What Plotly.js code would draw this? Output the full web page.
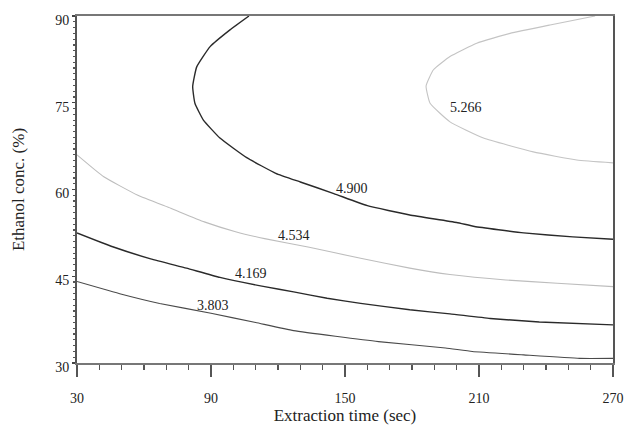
<!DOCTYPE html>
<html>
<head>
<meta charset="utf-8">
<script src="https://cdn.plot.ly/plotly-3.0.1.min.js"></script>
<style>html,body{margin:0;padding:0;background:#fff;}#chart{width:627px;height:428px;}</style>
</head>
<body>
<div id="chart"></div>
<script>
// Contour levels
const levels = ["3.803", "4.169", "4.534", "4.900", "5.266"];

// Contour 3.803
const c1x = [30, 50, 67, 90, 110, 127, 165, 195, 207, 230, 255, 270];
const c1y = [44.1, 41.9, 40.3, 38.6, 37.0, 35.6, 33.7, 32.6, 32.0, 31.4, 30.8, 30.8];
// Contour 4.169
const c2x = [30, 46, 63, 79, 94, 114, 127, 142, 157, 179, 197, 215, 237, 270];
const c2y = [52.5, 50.1, 48.0, 46.4, 44.8, 43.2, 42.3, 41.2, 40.3, 39.2, 38.5, 37.7, 37.1, 36.6];
// Contour 4.534
const c3x = [30, 42, 57, 72, 87, 101, 114, 134, 157, 179, 197, 222, 245, 270];
const c3y = [66.0, 62.2, 59.05, 56.75, 54.4, 52.7, 51.5, 50.0, 48.1, 46.4, 45.3, 44.35, 43.8, 43.2];
// Contour 4.900
const c4x = [107, 98.5, 89.6, 83.6, 81.8, 82.8, 86.6, 94, 106, 119, 130, 145, 160, 179, 200, 208, 230, 252, 270];
const c4y = [90, 87.6, 84.7, 81.2, 77.8, 74.9, 72.0, 68.9, 65.5, 62.8, 61.3, 59.3, 57.2, 55.6, 54.3, 53.6, 52.5, 51.8, 51.4];
// Contour 5.266
const c5x = [262, 241.8, 223.9, 209, 197, 189.6, 186.3, 188.1, 197, 212, 234.3, 253.8, 270];
const c5y = [90, 88.45, 87.0, 85.3, 83.0, 80.7, 77.9, 74.9, 71.7, 68.9, 66.5, 65.1, 64.6];

// Label positions
const labelX = [91, 108, 127, 153, 204];
const labelY = [40.0, 45.5, 52.1, 60.2, 74.2];

// Axis ticks
const xTicks = [30, 90, 150, 210, 270];
const yTicks = [30, 45, 60, 75, 90];

const series = [[c1x, c1y], [c2x, c2y], [c3x, c3y], [c4x, c4y], [c5x, c5y]];
const colors = ["#4a4a4a", "#2a2a2a", "#bdbdbd", "#2a2a2a", "#c4c4c4"];
const widths = [1.1, 1.4, 1.1, 1.4, 1.1];

const traces = series.map((s, i) => ({
  type: "scatter", mode: "lines", x: s[0], y: s[1], name: levels[i],
  line: {color: colors[i], width: widths[i], shape: "spline", smoothing: 0.4},
  hoverinfo: "skip", showlegend: false
}));

const fam = "Liberation Serif, Times New Roman, serif";
const font = {family: fam, size: 14, color: "#222"};

const annotations = levels.map((t, i) => ({
  x: labelX[i], y: labelY[i], xref: "x", yref: "y", text: t, showarrow: false,
  font: font
}));

const layout = {
  width: 627, height: 428,
  margin: {l: 77, r: 14, t: 16, b: 65},
  paper_bgcolor: "#fff", plot_bgcolor: "#fff",
  showlegend: false,
  font: font,
  annotations: annotations,
  xaxis: {
    range: [30, 270], tickvals: xTicks, ticktext: xTicks.map(String),
    showgrid: false, zeroline: false,
    showline: true, linecolor: "#777", linewidth: 2, mirror: true,
    ticks: "outside", ticklen: 12, tickwidth: 1.5, tickcolor: "#555",
    ticklabelstandoff: 9,
    minor: {dtick: 10, tick0: 30, ticks: "outside", ticklen: 5, tickwidth: 1.2, tickcolor: "#555", showgrid: false},
    tickfont: {family: fam, size: 14, color: "#222"},
    title: {text: "Extraction time (sec)", font: {family: fam, size: 17, color: "#222"}, standoff: 4}
  },
  yaxis: {
    range: [30, 90], tickvals: yTicks, ticktext: yTicks.map(String),
    showgrid: false, zeroline: false,
    showline: true, linecolor: "#555", linewidth: 2, mirror: true,
    ticks: "outside", ticklen: 3, tickwidth: 1.2, tickcolor: "#444",
    ticklabelstandoff: 0, ticklabelshift: 4,
    minor: {dtick: 1, tick0: 30, ticks: "outside", ticklen: 2, tickwidth: 1.2, tickcolor: "#555", showgrid: false},
    tickfont: {family: fam, size: 14, color: "#222"},
    title: {text: "Ethanol conc. (%)", font: {family: fam, size: 17, color: "#222"}, standoff: 26}
  }
};

Plotly.newPlot("chart", traces, layout, {staticPlot: true, displayModeBar: false});
</script>
</body>
</html>
